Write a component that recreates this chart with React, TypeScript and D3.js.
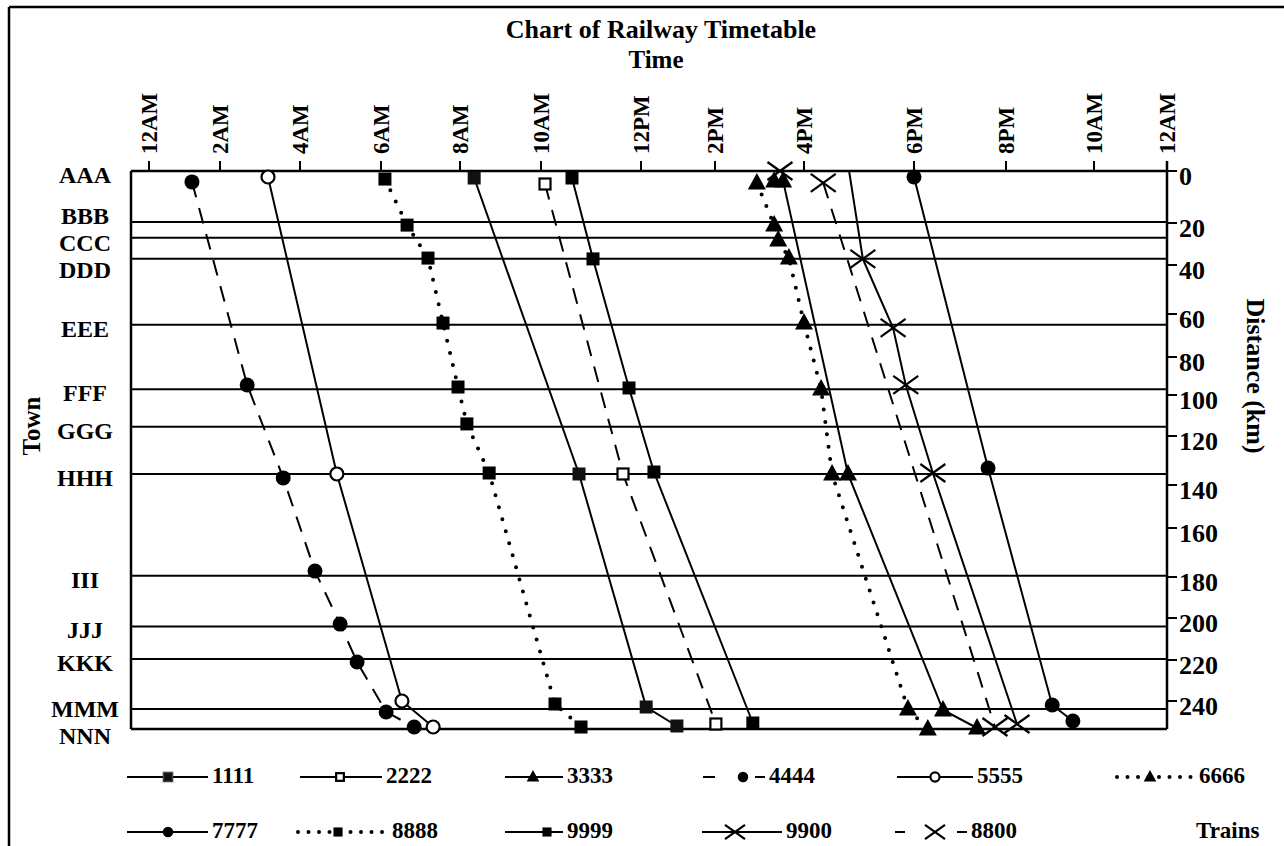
import React from "react";
import * as d3 from "d3";

// ---------------- data ----------------
const hourTicks = [0, 2, 4, 6, 8, 10, 12, 14, 16, 18, 20, 22, 24];
const hourTickLabels = ["12AM", "2AM", "4AM", "6AM", "8AM", "10AM", "12PM", "2PM", "4PM", "6PM", "8PM", "10AM", "12AM"];
const kmTicks = [0, 20, 40, 60, 80, 100, 120, 140, 160, 180, 200, 220, 240];
const kmMax = 254;

const towns = ["AAA", "BBB", "CCC", "DDD", "EEE", "FFF", "GGG", "HHH", "III", "JJJ", "KKK", "MMM", "NNN"];
const townKm = [0, 19.6, 27, 37, 65, 97, 115.5, 135.5, 179.5, 204, 219.5, 244, 254];

const hours1111 = [8.35, 10.76, 12.14, 12.97];
const km1111 = [2.7, 135.5, 243, 252.5];
const hours2222 = [10.08, 11.64, 14.02];
const km2222 = [5.0, 135.5, 251.5];
const hours3333 = [15.33, 15.53, 16.8, 18.63, 19.37];
const km3333 = [3.8, 3.8, 135.5, 244.5, 253.5];
const hours4444 = [1.21, 2.68, 3.58, 4.37, 4.99, 5.41, 6.13, 6.84];
const km4444 = [4.2, 94.7, 137.1, 177.6, 202.9, 221, 245.5, 253];
const hours5555 = [3.2, 4.91, 6.53, 7.32];
const km5555 = [2.3, 135.5, 240, 253];
const hours6666 = [14.94, 15.33, 15.42, 15.66, 16.0, 16.31, 16.51, 17.89, 18.3];
const km6666 = [4.6, 21, 28.1, 36.7, 64.2, 96.8, 135.5, 244, 254];
const hours7777 = [18.0, 19.61, 21.05, 21.52];
const km7777 = [2.3, 133.1, 242, 250];
const hours8888 = [6.1, 6.66, 7.19, 7.57, 7.95, 8.17, 8.72, 10.28, 10.8];
const km8888 = [3.1, 21, 36.7, 64.2, 95.8, 114.1, 135.1, 241.5, 253];
const hours9999 = [10.62, 11.04, 11.76, 12.35, 14.85];
const km9999 = [2.7, 37.1, 96.3, 134.7, 251];
const hours9900 = [15.46, 16.82, 17.07, 17.62, 17.85, 18.41, 20.25];
const km9900 = [0, 0, 37.1, 66.5, 94.7, 135.1, 251.5];
const hours8800 = [16.35, 19.76];
const km8800 = [4.6, 253];

const trainIds = ["1111", "2222", "3333", "4444", "5555", "6666", "7777", "8888", "9999", "9900", "8800"];
const trainHours = [hours1111, hours2222, hours3333, hours4444, hours5555, hours6666, hours7777, hours8888, hours9999, hours9900, hours8800];
const trainKm = [km1111, km2222, km3333, km4444, km5555, km6666, km7777, km8888, km9999, km9900, km8800];

// ---------------- layout / style ----------------
const W = 1284;
const H = 846;
const plotLeft = 131;
const plotRight = 1167;
const plotTop = 171;
const plotBottom = 729;
// the printed axes are not evenly spaced: pixel position of every tick
const xTickPx = [149, 220, 300, 381, 460, 541, 641, 715, 804, 914, 1006, 1094, 1167];
const yTickPx = [171, 223, 265, 314, 357, 395, 436, 485, 528, 577, 618, 660, 701, 729];

type LineKind = "solid" | "dash" | "dot";
type MarkKind = "sq" | "sqGray" | "osq" | "tri" | "dot" | "odot" | "x";
const styles: Record<string, { line: LineKind; legendLine: LineKind; mark: MarkKind; skip?: number[] }> = {
  "1111": { line: "solid", legendLine: "solid", mark: "sqGray" },
  "2222": { line: "dash", legendLine: "solid", mark: "osq" },
  "3333": { line: "solid", legendLine: "solid", mark: "tri" },
  "4444": { line: "dash", legendLine: "dash", mark: "dot" },
  "5555": { line: "solid", legendLine: "solid", mark: "odot" },
  "6666": { line: "dot", legendLine: "dot", mark: "tri" },
  "7777": { line: "solid", legendLine: "solid", mark: "dot" },
  "8888": { line: "dot", legendLine: "dot", mark: "sq" },
  "9999": { line: "solid", legendLine: "solid", mark: "sq" },
  "9900": { line: "solid", legendLine: "solid", mark: "x", skip: [1] },
  "8800": { line: "dash", legendLine: "dash", mark: "x" },
};

const legendOrder = ["1111", "2222", "3333", "4444", "5555", "6666", "7777", "8888", "9999", "9900", "8800"];
const legendX = [127, 300, 505, 703, 897, 1117, 127, 298, 505, 702, 895];
const legendW = [81, 82, 58, 62, 76, 78, 81, 90, 58, 80, 72];
const legendMarkOff = [41, 40, 28, 40, 38, 33, 41, 40, 42, 33, 40];
const legendRowY = [777, 832];

const FONT = "'Liberation Serif', 'Times New Roman', Times, serif";

function Marker({ kind, cx, cy, s = 1 }: { kind: MarkKind; cx: number; cy: number; s?: number }) {
  switch (kind) {
    case "sq":
      return <rect x={cx - 6.5 * s} y={cy - 6.5 * s} width={13 * s} height={13 * s} fill="#000" />;
    case "sqGray":
      return <rect x={cx - 6.5 * s} y={cy - 6.5 * s} width={13 * s} height={13 * s} fill="#111" stroke={s < 1 ? "#444" : "none"} strokeWidth={1.5} />;
    case "osq":
      return <rect x={cx - 5.5 * s} y={cy - 5.5 * s} width={11 * s} height={11 * s} fill="#fff" stroke="#000" strokeWidth={2.2} />;
    case "tri":
      return <path d={`M${cx},${cy - 10 * s}L${cx + 9 * s},${cy + 6.5 * s}L${cx - 9 * s},${cy + 6.5 * s}Z`} fill="#000" />;
    case "dot":
      return <circle cx={cx} cy={cy} r={7.5 * s} fill="#000" />;
    case "odot":
      return <circle cx={cx} cy={cy} r={6.5 * s} fill="#fff" stroke="#000" strokeWidth={2.2} />;
    case "x":
      return (
        <g stroke="#000" strokeWidth={2.2}>
          <line x1={cx - 12.5 * s} y1={cy - 9 * s} x2={cx + 12.5 * s} y2={cy + 9 * s} />
          <line x1={cx - 12.5 * s} y1={cy + 9 * s} x2={cx + 12.5 * s} y2={cy - 9 * s} />
        </g>
      );
  }
  return null;
}

function lineProps(kind: LineKind, legend = false) {
  if (kind === "dash") return { strokeWidth: 2, strokeDasharray: "16 11" };
  if (kind === "dot") return { strokeWidth: 4, strokeDasharray: legend ? "0 10.5" : "0 12.5", strokeLinecap: "round" as const };
  return { strokeWidth: 2 };
}

function relax(ys: number[], gap: number): number[] {
  const out = ys.slice();
  for (let it = 0; it < 300; it++) {
    let moved = false;
    for (let i = 1; i < out.length; i++) {
      const d = out[i] - out[i - 1];
      if (d < gap - 0.01) {
        const push = (gap - d) / 2;
        out[i - 1] -= push;
        out[i] += push;
        moved = true;
      }
    }
    if (!moved) break;
  }
  return out;
}

export default function App() {
  const x = d3.scaleLinear().domain(hourTicks).range(xTickPx);
  const y = d3.scaleLinear().domain([...kmTicks, kmMax]).range(yTickPx);
  const line = d3
    .line<[number, number]>()
    .x((d) => x(d[0]))
    .y((d) => y(d[1]));

  const townY = townKm.map((k) => y(k));
  const labelY = relax(townY.map((v) => v + 2), 27);

  const series = trainIds.map((id, i) => ({
    id,
    pts: trainHours[i].map((h, j) => [h, trainKm[i][j]] as [number, number]),
  }));

  return (
    <div style={{ position: "absolute", left: 0, top: 0 }}>
      <svg width={W} height={H} style={{ display: "block", background: "#fff" }} fontFamily={FONT} fontWeight="bold">
        {/* frame */}
        <line x1={9} y1={7} x2={W} y2={7} stroke="#000" strokeWidth={2.5} />
        <line x1={9} y1={7} x2={9} y2={H} stroke="#000" strokeWidth={2.5} />

        {/* title */}
        <text x={661} y={38} textAnchor="middle" fontSize={26}>Chart of Railway Timetable</text>
        <text x={656} y={68} textAnchor="middle" fontSize={25}>Time</text>

        {/* town lines */}
        {townY.map((ty, i) => (
          <line key={"tl" + i} x1={plotLeft} x2={plotRight} y1={ty} y2={ty} stroke="#000" strokeWidth={2} />
        ))}

        {/* axes */}
        <line x1={plotLeft} x2={plotRight} y1={plotTop} y2={plotTop} stroke="#000" strokeWidth={2.5} />
        <line x1={plotLeft} x2={plotRight} y1={plotBottom} y2={plotBottom} stroke="#000" strokeWidth={2.5} />
        <line x1={plotLeft} x2={plotLeft} y1={plotTop} y2={plotBottom} stroke="#000" strokeWidth={2.5} />
        <line x1={plotRight} x2={plotRight} y1={plotTop - 10} y2={plotBottom} stroke="#000" strokeWidth={2.5} />

        {/* top time ticks */}
        {hourTicks.map((h, i) => (
          <g key={"xt" + i}>
            <line x1={x(h)} x2={x(h)} y1={plotTop - 10} y2={plotTop} stroke="#000" strokeWidth={2} />
            <text transform={`translate(${x(h)},${plotTop - 17}) rotate(-90)`} dy="0.35em" fontSize={23} textAnchor="start">
              {hourTickLabels[i]}
            </text>
          </g>
        ))}

        {/* right distance ticks */}
        {kmTicks.map((k) => (
          <g key={"yt" + k}>
            <line x1={plotRight} x2={plotRight + 10} y1={y(k)} y2={y(k)} stroke="#000" strokeWidth={2} />
            <text x={plotRight + 12} y={y(k) + 5} dy="0.35em" fontSize={26}>{k}</text>
          </g>
        ))}

        {/* town labels */}
        {towns.map((t, i) => (
          <text key={"tn" + i} x={85} y={labelY[i] + 1.5} dy="0.35em" textAnchor="middle" fontSize={24}>
            {t}
          </text>
        ))}

        {/* axis titles */}
        <text transform="translate(40,426) rotate(-90)" textAnchor="middle" fontSize={25}>Town</text>
        <text transform="translate(1247,376) rotate(90)" textAnchor="middle" fontSize={26}>Distance (km)</text>

        {/* train lines */}
        {series.map((s) => (
          <path key={"p" + s.id} d={line(s.pts) || ""} fill="none" stroke="#000" {...lineProps(styles[s.id].line)} />
        ))}
        {/* train markers */}
        {series.map((s) =>
          s.pts.map((p, j) =>
            styles[s.id].skip && styles[s.id].skip!.includes(j) ? null : (
              <Marker key={"m" + s.id + j} kind={styles[s.id].mark} cx={x(p[0])} cy={y(p[1])} />
            )
          )
        )}

        {/* legend */}
        {legendOrder.map((id, i) => {
          const row = i < 6 ? 0 : 1;
          const ly = legendRowY[row];
          const x0 = legendX[i];
          const w = legendW[i];
          const st = styles[id];
          let dash: any = lineProps(st.legendLine, true);
          if (st.legendLine === "dash") {
            dash = { strokeWidth: 2, strokeDasharray: id === "4444" ? "12 40" : "10 52" };
          }
          return (
            <g key={"lg" + id}>
              <line x1={x0} x2={x0 + w} y1={ly} y2={ly} stroke="#000" {...dash} />
              <Marker kind={st.mark} cx={x0 + legendMarkOff[i]} cy={ly} s={st.mark === "x" ? 0.8 : 0.7} />
              <text x={x0 + w + 4} y={ly + 6} fontSize={23}>{id}</text>
            </g>
          );
        })}
        <text x={1196} y={legendRowY[1] + 6} fontSize={23}>Trains</text>
      </svg>
    </div>
  );
}
